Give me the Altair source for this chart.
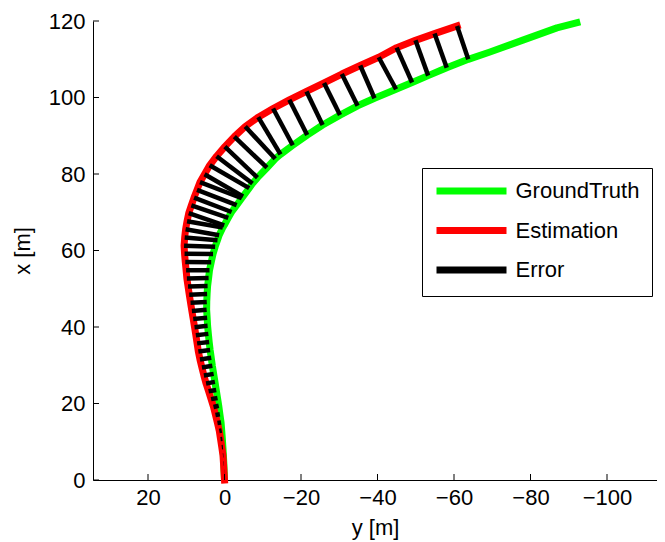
import altair as alt
import pandas as pd

# ---- data ----
series_names = ["GroundTruth", "Estimation", "Error"]
series_colors = ["#00ff00", "#ff0000", "#000000"]

# estimation samples: lateral y [m], forward x [m]
est_y = [0, 0.13, 0.26, 0.40, 0.71, 1.03, 1.36, 1.84, 2.36, 2.87, 3.50, 4.16, 4.82, 5.39,
         5.90, 6.41, 6.84, 7.16, 7.49, 7.83, 8.18, 8.53, 8.88, 9.21, 9.53, 9.84, 10.04, 10.25,
         10.44, 10.57, 10.41, 10.17, 9.79, 9.35, 8.67, 7.96, 7.19, 6.42, 5.22, 3.88, 2.07, -0.09,
         -2.57, -5.42, -8.82, -12.70, -16.94, -21.43, -26.02, -30.67, -35.48, -40.31, -45.00,
         -49.92, -54.91, -60.8]
est_x = [0, 2.15, 4.29, 6.44, 8.57, 10.69, 12.82, 14.91, 16.99, 19.09, 21.14, 23.19, 25.24, 27.31,
         29.39, 31.49, 33.59, 35.72, 37.84, 39.96, 42.08, 44.2, 46.33, 48.45, 50.57, 52.7, 54.84, 56.98,
         59.13, 61.27, 63.42, 65.55, 67.67, 69.76, 71.80, 73.83, 75.85, 77.85, 79.93, 82.27, 84.66, 87.15,
         89.76, 92.42, 94.86, 97.13, 99.39, 101.59, 103.81, 106.14, 108.37, 110.52, 113.02,
         114.94, 116.71, 118.7]

# ground-truth samples paired with the estimation samples
gt_y = [0, 0.09, 0.17, 0.29, 0.42, 0.56, 0.73, 0.9, 1.21, 1.51, 1.83, 2.17, 2.50, 2.84,
        3.18, 3.47, 3.76, 4.01, 4.22, 4.42, 4.54, 4.67, 4.64, 4.55, 4.42, 4.16, 3.92, 3.48,
        3.0, 2.44, 1.83, 1.4, 0.45, 0.08, -0.98, -1.85, -3.18, -4.51, -4.84, -6.45, -7.32, -8.62,
        -11.1, -13.26, -14.65, -17.85, -21.62, -25.65, -30.2, -34.8, -39.22, -44.85, -49.05,
        -53.25, -58.1, -63.73]
gt_x = [0, 2.15, 4.3, 6.45, 8.6, 10.75, 12.95, 15.05, 17.2, 19.4, 21.45, 23.55, 25.65, 27.75,
        29.85, 31.95, 34.0, 36.1, 38.2, 40.3, 42.4, 44.5, 46.55, 48.65, 50.7, 52.8, 54.85, 56.9,
        59.1, 61.0, 62.7, 64.0, 66.0, 66.6, 68.55, 70.07, 71.88, 73.66, 74.12, 76.3, 77.5, 79.03,
        81.64, 83.98, 85.12, 87.5, 90.18, 92.8, 95.4, 97.83, 99.81, 102.15, 103.92,
        105.72, 107.77, 109.98]
# ground truth continues after the last estimate
gt_tail_y = [-69.4, -78.0, -86.9, -93.0]
gt_tail_x = [111.9, 115.0, 118.2, 119.8]

x_ticks = [20, 0, -20, -40, -60, -80, -100]
y_ticks = [0, 20, 40, 60, 80, 100, 120]

# ---- tables ----
gy = gt_y + gt_tail_y
gx = gt_x + gt_tail_x
gt_df = pd.DataFrame({"i": range(len(gy)), "ym": gy, "xm": gx, "series": "GroundTruth"})
est_df = pd.DataFrame({"i": range(len(est_y)), "ym": est_y, "xm": est_x, "series": "Estimation"})
err_df = pd.DataFrame({"ym": est_y, "xm": est_x, "ym2": gt_y, "xm2": gt_x, "series": "Error"})
xt_df = pd.DataFrame({"v": x_ticks})
yt_df = pd.DataFrame({"v": y_ticks})

FONT = "Liberation Sans"
W, H = 564, 459

xscale = alt.Scale(domain=[-113.07, 34.38], reverse=True, nice=False, zero=False)
yscale = alt.Scale(domain=[0, 120], nice=False, zero=False)

xaxis = alt.Axis(values=x_ticks, title="y [m]", ticks=False, tickSize=0, grid=False,
                 labelFontSize=22, titleFontSize=22, titleFontWeight="normal",
                 labelFont=FONT, titleFont=FONT, labelColor="black", titleColor="black",
                 labelPadding=7, titlePadding=9, domainColor="black", domainWidth=1,
                 labelFlush=False, labelOverlap=False)
yaxis = alt.Axis(values=y_ticks, title="x [m]", ticks=False, tickSize=0, grid=False,
                 labelFontSize=22, titleFontSize=22, titleFontWeight="normal",
                 labelFont=FONT, titleFont=FONT, labelColor="black", titleColor="black",
                 labelPadding=8, titlePadding=14, domainColor="black", domainWidth=1,
                 labelFlush=False, labelOverlap=False)

color = alt.Color(
    "series:N",
    scale=alt.Scale(domain=series_names, range=series_colors),
    legend=alt.Legend(
        orient="none", legendX=329, legendY=147, title=None,
        symbolType="M-5,0H5", symbolSize=196, symbolStrokeWidth=7,
        symbolOffset=26.5, labelOffset=33,
        labelFontSize=22, labelFont=FONT, labelColor="black",
        padding=12, strokeColor="black", fillColor="white", cornerRadius=0,
        rowPadding=11.5,
    ),
)

gt_line = alt.Chart(gt_df).mark_line(strokeWidth=7, strokeJoin="round", strokeCap="butt").encode(
    x=alt.X("ym:Q", scale=xscale, axis=xaxis),
    y=alt.Y("xm:Q", scale=yscale, axis=yaxis),
    order=alt.Order("i:Q"),
    color=color,
)
est_line = alt.Chart(est_df).mark_line(strokeWidth=7, strokeJoin="round", strokeCap="square").encode(
    x=alt.X("ym:Q", scale=xscale),
    y=alt.Y("xm:Q", scale=yscale),
    order=alt.Order("i:Q"),
    color=color,
)
err_rules = alt.Chart(err_df).mark_rule(strokeWidth=4.5, strokeCap="butt").encode(
    x=alt.X("ym:Q", scale=xscale),
    y=alt.Y("xm:Q", scale=yscale),
    x2="ym2:Q",
    y2="xm2:Q",
    color=color,
)
xtick_marks = alt.Chart(xt_df).mark_rule(color="black", strokeWidth=1).encode(
    x=alt.X("v:Q", scale=xscale),
    y=alt.value(H),
    y2=alt.value(H - 6),
)
ytick_marks = alt.Chart(yt_df).mark_rule(color="black", strokeWidth=1).encode(
    y=alt.Y("v:Q", scale=yscale),
    x=alt.value(0),
    x2=alt.value(6),
)

chart = alt.layer(gt_line, est_line, err_rules, xtick_marks, ytick_marks).properties(
    width=W, height=H,
    autosize=alt.AutoSizeParams(type="none"),
    padding={"left": 85, "top": 13, "right": 0, "bottom": 62},
    background="white",
).configure_view(stroke=None)

chart.save("out.html", embed_options={"renderer": "svg", "actions": False})
